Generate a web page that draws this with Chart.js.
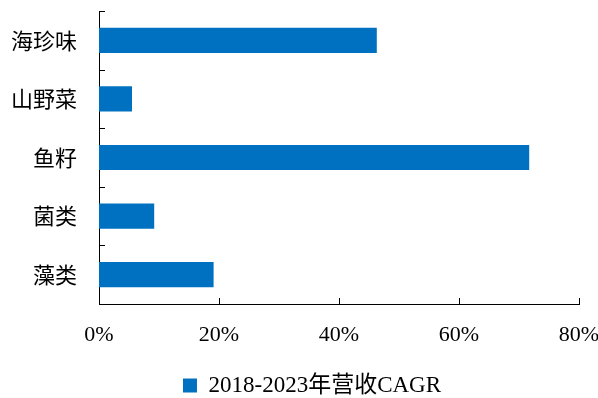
<!DOCTYPE html>
<html>
<head>
<meta charset="utf-8">
<script src="https://cdn.jsdelivr.net/npm/chart.js@4/dist/chart.umd.min.js"></script>
<style>
html,body{margin:0;padding:0;background:#fff;}
#wrap{width:598px;height:398px;position:relative;}
</style>
</head>
<body>
<div id="wrap"><canvas id="c" width="598" height="398"></canvas></div>
<script>
const categories = ["海珍味", "山野菜", "鱼籽", "菌类", "藻类"];
const cagrValues = [46.3, 5.5, 71.7, 9.2, 19.1];
const xTicks = [0, 20, 40, 60, 80];
const seriesName = "2018-2023年营收CAGR";

const inwardTicks = {
  id: 'inwardTicks',
  afterLayout(chart) {
    // shift legend to the right like the reference
    chart.legend.left += 13;
    chart.legend.right += 13;
  },
  afterDraw(chart) {
    const ctx = chart.ctx;
    const xs = chart.scales.x, ys = chart.scales.y;
    ctx.save();
    ctx.strokeStyle = '#000';
    ctx.lineWidth = 1;
    ctx.beginPath();
    for (let i = 0; i <= categories.length; i++) {
      const y = Math.round(ys.getPixelForValue(i - 0.5)) + 0.5;
      ctx.moveTo(xs.left, y);
      ctx.lineTo(xs.left + 6, y);
    }
    xTicks.forEach(v => {
      const x = Math.round(xs.getPixelForValue(v)) + 0.5;
      ctx.moveTo(x, ys.bottom);
      ctx.lineTo(x, ys.bottom - 6);
    });
    ctx.stroke();
    ctx.restore();
  }
};

new Chart(document.getElementById('c'), {
  type: 'bar',
  data: {
    labels: categories,
    datasets: [{
      label: seriesName,
      data: cagrValues,
      backgroundColor: '#0070C0',
      borderWidth: 0,
      barPercentage: 0.43,
      categoryPercentage: 1.0
    }]
  },
  options: {
    indexAxis: 'y',
    responsive: false,
    animation: false,
    layout: { padding: { top: 11, right: 0, left: 0, bottom: -9 } },
    plugins: {
      legend: {
        position: 'bottom',
        labels: {
          boxWidth: 14, boxHeight: 14, padding: 7,
          color: '#000',
          font: { family: '"Liberation Serif", "Noto Sans CJK SC"', size: 23 }
        }
      },
      tooltip: { enabled: false }
    },
    scales: {
      x: {
        min: 0, max: 80,
        afterBuildTicks(scale) { scale.ticks = xTicks.map(v => ({ value: v })); },
        afterFit(scale) {
          scale.height = 63;
          scale.paddingLeft = 0; scale.paddingRight = 19;
          scale.paddingTop = 0; scale.paddingBottom = 0;
        },
        grid: { display: false, drawTicks: false },
        border: { display: true, color: '#000', width: 1 },
        ticks: {
          padding: 18,
          color: '#000',
          font: { family: '"Liberation Serif"', size: 22 },
          callback: v => v + '%',
          maxRotation: 0
        }
      },
      y: {
        afterFit(scale) {
          scale.width = 99;
          scale.paddingTop = 0; scale.paddingBottom = 0;
          scale.paddingLeft = 0; scale.paddingRight = 0;
        },
        grid: { display: false, drawTicks: false },
        border: { display: true, color: '#000', width: 1 },
        ticks: {
          padding: 22,
          color: '#000',
          font: { family: '"Noto Sans CJK SC"', size: 22 }
        }
      }
    }
  },
  plugins: [inwardTicks]
});
</script>
</body>
</html>
